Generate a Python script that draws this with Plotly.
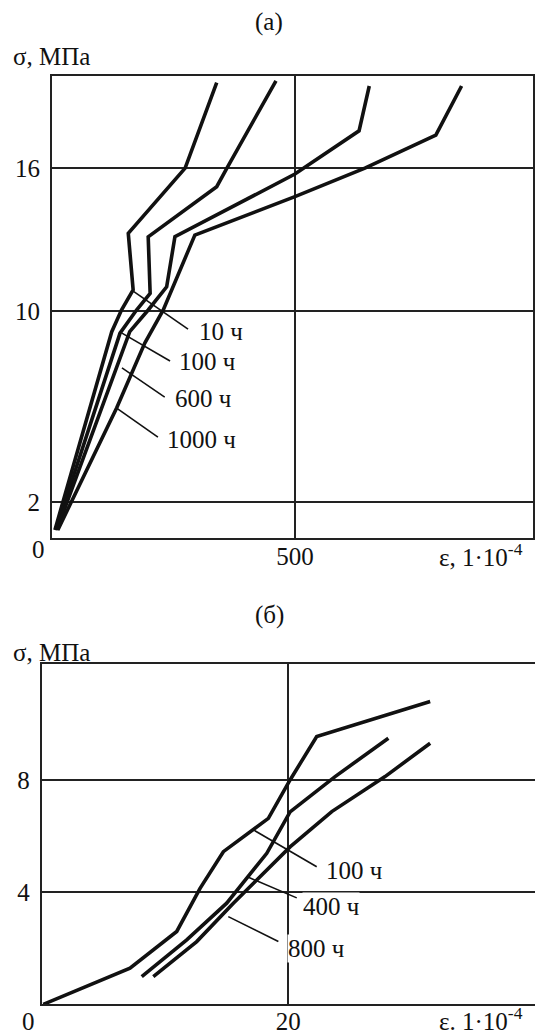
import plotly.graph_objects as go

# ---- panel (а): strain, 1e-4 vs stress, MPa ----
eps_a_10 = [6, 123, 143, 167, 157, 274, 339]
sig_a_10 = [0.83, 9.14, 10.05, 10.89, 13.26, 16.0, 19.58]
eps_a_100 = [8, 140, 174, 202, 198, 339, 360, 461]
sig_a_100 = [0.83, 9.08, 10.05, 10.75, 13.12, 15.22, 16.0, 19.66]
eps_a_600 = [10, 160, 198, 236, 253, 500, 632, 653]
sig_a_600 = [0.83, 9.14, 10.05, 11.02, 13.12, 15.75, 17.56, 19.44]
eps_a_1000 = [12, 133, 191, 229, 294, 500, 644, 790, 843]
sig_a_1000 = [0.83, 5.94, 8.66, 10.05, 13.19, 14.8, 16.0, 17.38, 19.44]

labels_a = ["10 ч", "100 ч", "600 ч", "1000 ч"]
# leader lines: start on curve -> end near text
lead_a_x0 = [167, 144, 144, 133]
lead_a_y0 = [10.84, 9.08, 7.62, 5.94]
lead_a_x1 = [280, 243, 232, 218]
lead_a_y1 = [9.25, 7.91, 6.40, 4.72]
text_a_x = [298, 257, 249, 232]
text_a_y = [9.13, 7.87, 6.32, 4.60]

# ---- panel (б) ----
eps_b_100 = [0.13, 7.16, 10.95, 12.84, 14.73, 17.16, 18.38, 20.14, 22.3, 31.5]
sig_b_100 = [0.0, 1.29, 2.6, 4.14, 5.45, 6.23, 6.64, 8.01, 9.56, 10.81]
eps_b_400 = [8.11, 11.76, 15.0, 18.25, 20.14, 23.79, 28.11]
sig_b_400 = [0.99, 2.3, 3.61, 5.39, 6.87, 8.13, 9.5]
eps_b_800 = [9.05, 12.57, 15.54, 17.7, 20.14, 23.52, 27.84, 31.5]
sig_b_800 = [0.99, 2.24, 3.61, 4.56, 5.62, 6.88, 8.13, 9.32]

labels_b = ["100 ч", "400 ч", "800 ч"]
lead_b_x0 = [17.16, 16.63, 15.13]
lead_b_y0 = [6.23, 4.56, 3.13]
lead_b_x1 = [22.3, 20.68, 19.19]
lead_b_y1 = [4.91, 3.80, 2.24]
text_b_x = [22.98, 21.09, 19.87]
text_b_y = [4.76, 3.48, 2.01]

FONT = "Liberation Serif"
INK = "#111111"
FS = 25

fig = go.Figure()


def curve(x, y, xa, ya):
    fig.add_trace(go.Scatter(x=x, y=y, mode="lines", xaxis=xa, yaxis=ya,
                             line=dict(color=INK, width=3.6), hoverinfo="skip"))


def leaders(x0, y0, x1, y1, xa, ya):
    for a, b, c, d in zip(x0, y0, x1, y1):
        fig.add_trace(go.Scatter(x=[a, c], y=[b, d], mode="lines", xaxis=xa, yaxis=ya,
                                 line=dict(color=INK, width=1.6), hoverinfo="skip"))


for x, y in [(eps_a_10, sig_a_10), (eps_a_100, sig_a_100),
             (eps_a_600, sig_a_600), (eps_a_1000, sig_a_1000)]:
    curve(x, y, "x", "y")
leaders(lead_a_x0, lead_a_y0, lead_a_x1, lead_a_y1, "x", "y")

for x, y in [(eps_b_100, sig_b_100), (eps_b_400, sig_b_400), (eps_b_800, sig_b_800)]:
    curve(x, y, "x2", "y2")
leaders(lead_b_x0, lead_b_y0, lead_b_x1, lead_b_y1, "x2", "y2")

ann = []
for t, x, y in zip(labels_a, text_a_x, text_a_y):
    ann.append(dict(text=t, x=x, y=y, xref="x", yref="y", xanchor="left",
                    yanchor="middle", showarrow=False))
for t, x, y in zip(labels_b, text_b_x, text_b_y):
    ann.append(dict(text=t, x=x, y=y, xref="x2", yref="y2", xanchor="left",
                    yanchor="middle", showarrow=False, bgcolor="white", borderpad=0))

H = 1034.0
W = 535.0


def py(p):
    return 1 - p / H


ann += [
    dict(text="(а)", x=269 / W, y=py(22), xref="paper", yref="paper", showarrow=False,
         xanchor="center", yanchor="middle"),
    dict(text="σ, МПа", x=11 / W, y=py(57), xref="paper", yref="paper", showarrow=False,
         xanchor="left", yanchor="middle"),
    dict(text="0", x=38 / W, y=py(549), xref="paper", yref="paper", showarrow=False,
         xanchor="center", yanchor="middle"),
    dict(text="ε, 1·10<sup>-4</sup>", x=437 / W, y=py(555), xref="paper", yref="paper",
         showarrow=False, xanchor="left", yanchor="middle"),
    dict(text="(б)", x=269 / W, y=py(615), xref="paper", yref="paper", showarrow=False,
         xanchor="center", yanchor="middle"),
    dict(text="σ, МПа", x=11 / W, y=py(652), xref="paper", yref="paper", showarrow=False,
         xanchor="left", yanchor="middle"),
    dict(text="0", x=28 / W, y=py(1021), xref="paper", yref="paper", showarrow=False,
         xanchor="center", yanchor="middle"),
    dict(text="ε. 1·10<sup>-4</sup>", x=437 / W, y=py(1019), xref="paper", yref="paper",
         showarrow=False, xanchor="left", yanchor="middle"),
]

axis_common = dict(showgrid=True, gridcolor="#222222", gridwidth=1.5, zeroline=False,
                   showline=True, linecolor="#222222", linewidth=2, ticks="",
                   automargin=False,
                   tickfont=dict(family=FONT, size=FS, color=INK), fixedrange=True)

fig.update_layout(
    template="none",
    width=535, height=1034,
    margin=dict(l=0, r=0, t=0, b=0, pad=0),
    paper_bgcolor="white", plot_bgcolor="white",
    showlegend=False,
    font=dict(family=FONT, size=FS, color=INK),
    annotations=ann,
    xaxis=dict(axis_common, domain=[52 / W, 533 / W], range=[0, 990], anchor="y",
               tickvals=[500], ticktext=["500"], mirror=True, ticklabelstandoff=-5),
    yaxis=dict(axis_common, domain=[py(538), py(76)], range=[0.491, 19.86], anchor="x",
               tickvals=[2, 10, 16], ticktext=["2", "10", "16"], mirror=True,
               ticklabelstandoff=5),
    xaxis2=dict(axis_common, domain=[41.7 / W, 1.0], range=[0, 40.0], anchor="y2",
                tickvals=[20], ticktext=["20"], mirror=True, ticklabelstandoff=-6),
    yaxis2=dict(axis_common, domain=[py(1004.3), py(664)], range=[0, 12.15], anchor="x2",
                tickvals=[4, 8], ticktext=["4", "8"], mirror=False, ticklabelstandoff=5),
)

# page body has a default 8px margin; drop it so the figure sits at the window origin
fig.write_html("out.html", config={"displayModeBar": False},
               post_script="document.body.style.margin='0';"
                           "document.body.style.overflow='hidden';")
